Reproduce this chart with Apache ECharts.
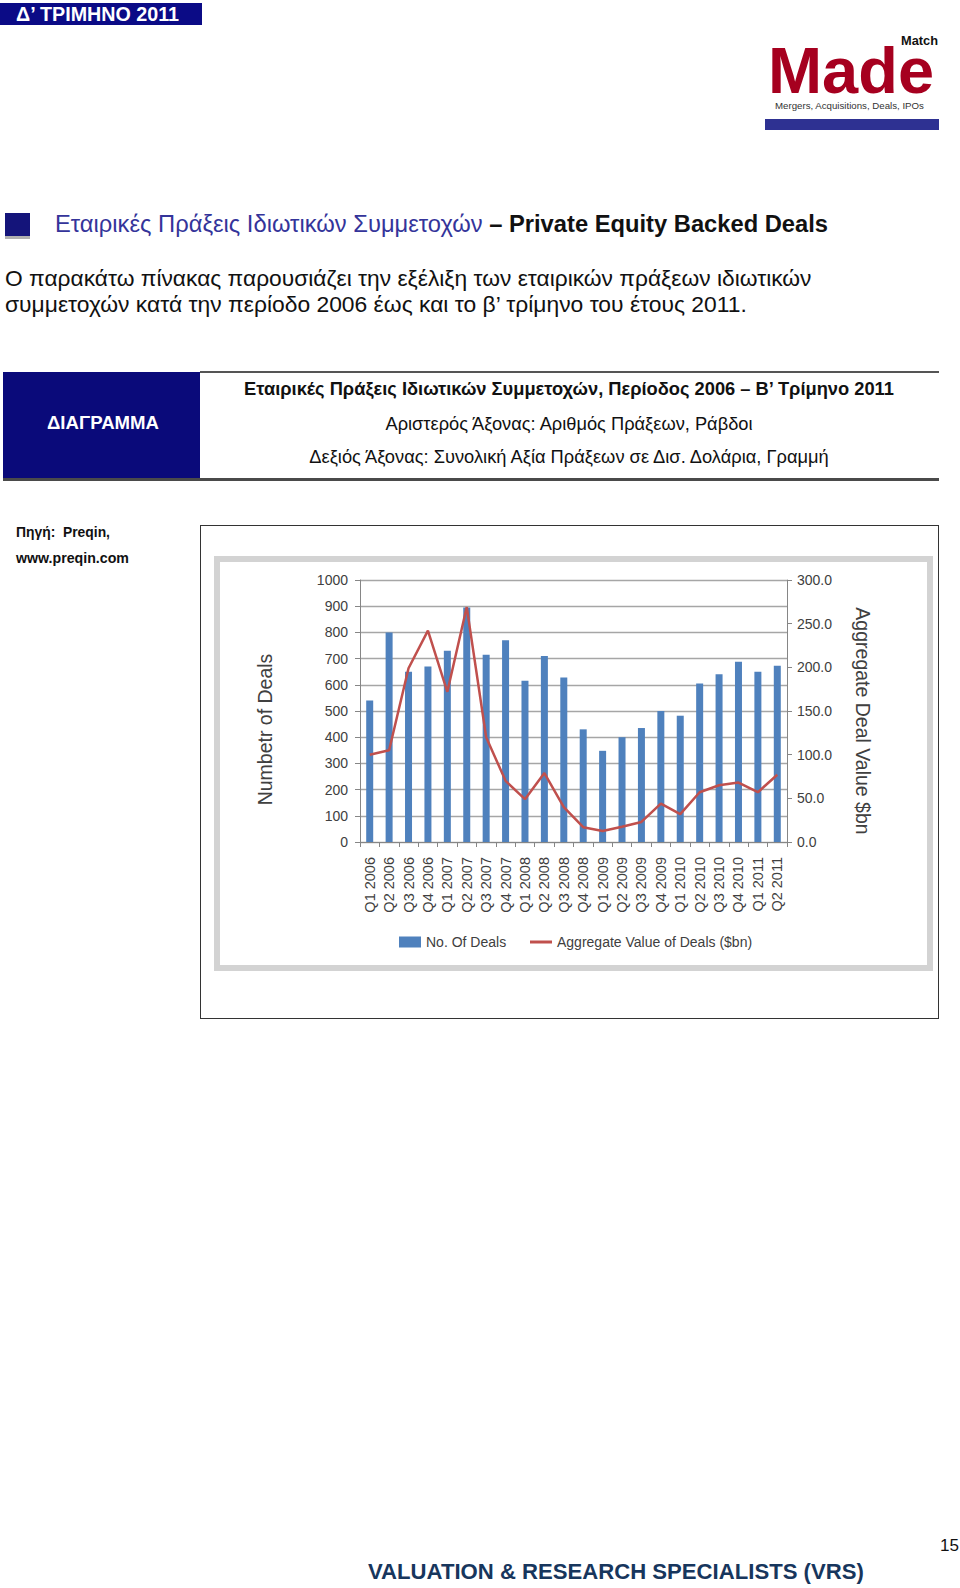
<!DOCTYPE html>
<html><head><meta charset="utf-8">
<script src="https://cdn.jsdelivr.net/npm/echarts@6/dist/echarts.min.js"></script>
<style>
body{margin:0;width:960px;height:1588px;position:relative;background:#fff;font-family:"Liberation Sans",Arial,sans-serif;overflow:hidden}
.t{position:absolute;white-space:nowrap;line-height:1.15;transform:translateY(-50%)}
.c{transform:translate(-50%,-50%)}
.r{position:absolute}
</style></head><body>
<!-- banner -->
<div class="r" style="left:0;top:3px;width:202px;height:22px;background:#0b0b86"></div>
<div class="t" data-w="163" style="left:16px;top:14px;font-size:18px;font-weight:bold;color:#fff">Δ’ ΤΡΙΜΗΝΟ 2011</div>
<!-- logo -->
<div class="t" data-w="37" style="left:901px;top:41px;font-size:13px;line-height:0.8;font-weight:bold;color:#111">Match</div>
<div class="t" data-w="166" style="left:768px;top:71px;font-size:66px;line-height:0.7;font-weight:bold;color:#a6001f">Made</div>
<div class="t" data-w="149" style="left:775px;top:106px;font-size:10px;line-height:1;color:#333">Mergers, Acquisitions, Deals, IPOs</div>
<div class="r" style="left:765px;top:119px;width:174px;height:11px;background:#2e3192"></div>
<!-- section header -->
<div class="r" style="left:5px;top:213px;width:25px;height:23px;background:#14147a"></div>
<div class="r" style="left:5px;top:236px;width:25px;height:3px;background:#b0b0b0"></div>
<div class="t" data-w="773" style="left:55px;top:225px;font-size:21px;color:#34349a">Εταιρικές Πράξεις Ιδιωτικών Συμμετοχών <span style="color:#111;font-weight:bold">– Private Equity Backed Deals</span></div>
<div class="t" data-w="807" style="left:5px;top:278px;font-size:21px;color:#111">Ο παρακάτω πίνακας παρουσιάζει την εξέλιξη των εταιρικών πράξεων ιδιωτικών</div>
<div class="t" data-w="742" style="left:5px;top:304px;font-size:21px;color:#111">συμμετοχών κατά την περίοδο 2006 έως και το β’ τρίμηνο του έτους 2011.</div>
<!-- table -->
<div class="r" style="left:200px;top:371px;width:739px;height:2px;background:#555"></div>
<div class="r" style="left:3px;top:372px;width:197px;height:107px;background:#0a0a7a"></div>
<div class="r" style="left:3px;top:478px;width:936px;height:3px;background:#4a4a4a"></div>
<div class="t c" data-w="112" style="left:103px;top:423px;font-size:17px;font-weight:bold;color:#fff">ΔΙΑΓΡΑΜΜΑ</div>
<div class="t c" data-w="650" style="left:569px;top:389px;font-size:17px;font-weight:bold;color:#111">Εταιρικές Πράξεις Ιδιωτικών Συμμετοχών, Περίοδος 2006 – Β’ Τρίμηνο 2011</div>
<div class="t c" data-w="367" style="left:569px;top:423px;font-size:17px;color:#111">Αριστερός Άξονας: Αριθμός Πράξεων, Ράβδοι</div>
<div class="t c" data-w="520" style="left:569px;top:457px;font-size:17px;color:#111">Δεξιός Άξονας: Συνολική Αξία Πράξεων σε Δισ. Δολάρια, Γραμμή</div>
<!-- source -->
<div class="t" data-w="94" style="left:16px;top:533px;font-size:13px;font-weight:bold;color:#111">Πηγή:&nbsp; Preqin,</div>
<div class="t" data-w="113" style="left:16px;top:558px;font-size:13px;font-weight:bold;color:#111">www.preqin.com</div>
<!-- chart frame -->
<div class="r" style="left:200px;top:525px;width:739px;height:494px;border:1px solid #333;box-sizing:border-box"></div>
<div class="r" style="left:214px;top:556px;width:719px;height:415px;border:6px solid #d3d3d3;box-sizing:border-box"></div>
<div id="chart" class="r" style="left:214px;top:556px;width:719px;height:415px"></div>
<!-- footer -->
<div class="t" data-w="19" style="left:940px;top:1546px;font-size:18px;color:#111">15</div>
<div class="t" data-w="496" style="left:368px;top:1572px;font-size:22px;font-weight:bold;color:#17365d">VALUATION &amp; RESEARCH SPECIALISTS (VRS)</div>
<script>
const categories = ['Q1 2006','Q2 2006','Q3 2006','Q4 2006','Q1 2007','Q2 2007','Q3 2007','Q4 2007',
  'Q1 2008','Q2 2008','Q3 2008','Q4 2008','Q1 2009','Q2 2009','Q3 2009','Q4 2009',
  'Q1 2010','Q2 2010','Q3 2010','Q4 2010','Q1 2011','Q2 2011'];
const numberOfDeals = [540, 800, 650, 670, 730, 895, 715, 770, 615, 710, 628, 430, 348, 400, 435, 500, 482, 605, 640, 688, 650, 673];
const aggregateValue = [100, 105, 199, 242, 172, 269, 120, 70, 49, 79, 40, 17, 12.6, 17.5, 23, 44, 32, 57, 65, 68, 57, 77];

document.querySelectorAll('[data-w]').forEach(el => {
  const target = parseFloat(el.dataset.w);
  const w = el.getBoundingClientRect().width;
  const fs = parseFloat(getComputedStyle(el).fontSize);
  if (w > 0) el.style.fontSize = (fs * target / w).toFixed(2) + 'px';
});

const FF = '"Liberation Sans", Arial, sans-serif';
const legendText = {fontSize: 14, color: '#404040', fontFamily: FF};
const chart = echarts.init(document.getElementById('chart'), null, {renderer: 'svg'});
chart.setOption({
  animation: false,
  textStyle: {fontFamily: FF},
  grid: {left: 146, right: 146, top: 24, bottom: 129},
  legend: [{
    left: 185, top: 379, padding: 0, itemWidth: 22, itemHeight: 11,
    textStyle: legendText,
    data: [{name: 'No. Of Deals', icon: 'rect'}]
  }, {
    left: 316, top: 379, padding: 0, itemWidth: 22, itemHeight: 3,
    textStyle: legendText,
    data: [{name: 'Aggregate Value of Deals ($bn)', icon: 'rect'}]
  }],
  xAxis: {
    type: 'category', data: categories, boundaryGap: true,
    axisLine: {lineStyle: {color: '#868686', width: 1}},
    axisTick: {show: true, length: 5, interval: 0, lineStyle: {color: '#868686'}},
    axisLabel: {rotate: 90, interval: 0, fontSize: 14.5, margin: 15, color: '#404040', fontFamily: FF}
  },
  yAxis: [{
    type: 'value', min: 0, max: 1000, interval: 100,
    axisLine: {show: true, lineStyle: {color: '#868686'}},
    axisTick: {show: true, length: 5, lineStyle: {color: '#868686'}},
    axisLabel: {fontSize: 14, margin: 12, color: '#404040', fontFamily: FF, formatter: v => String(v)},
    splitLine: {lineStyle: {color: '#a6a6a6', width: 1.3}}
  }, {
    type: 'value', min: 0, max: 300, interval: 50, position: 'right',
    axisLine: {show: true, lineStyle: {color: '#868686'}},
    axisTick: {show: true, length: 5, lineStyle: {color: '#868686'}},
    axisLabel: {fontSize: 14, margin: 10, color: '#404040', fontFamily: FF, formatter: v => v.toFixed(1)},
    splitLine: {show: false}
  }],
  graphic: [{
    type: 'text', x: 51, y: 173.5, rotation: Math.PI / 2,
    style: {text: 'Numbetr of Deals', fontSize: 19.5, fill: '#404040', fontFamily: FF, align: 'center', verticalAlign: 'middle'}
  }, {
    type: 'text', x: 649, y: 165, rotation: -Math.PI / 2,
    style: {text: 'Aggregate Deal Value $bn', fontSize: 19.5, fill: '#404040', fontFamily: FF, align: 'center', verticalAlign: 'middle'}
  }],
  series: [{
    name: 'No. Of Deals', type: 'bar', data: numberOfDeals, barWidth: 7,
    itemStyle: {color: '#4f81bd'}
  }, {
    name: 'Aggregate Value of Deals ($bn)', type: 'line', yAxisIndex: 1, data: aggregateValue,
    symbol: 'none', lineStyle: {color: '#c0504d', width: 2.5}, itemStyle: {color: '#c0504d'}
  }]
});
</script>
</body></html>
